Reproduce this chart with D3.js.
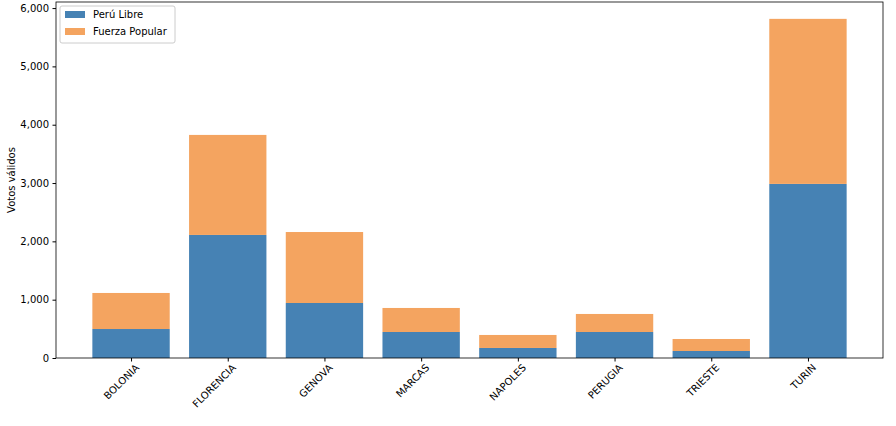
<!DOCTYPE html><html><head><script src="https://cdn.jsdelivr.net/npm/d3@7"></script>
<style>body{margin:0;background:#fff}text{font-family:"DejaVu Sans",sans-serif}</style></head><body>
<svg id="c" width="896" height="426"></svg>
<script>
const categories=["BOLONIA","FLORENCIA","GENOVA","MARCAS","NAPOLES","PERUGIA","TRIESTE","TURIN"];
const peruLibre=[497,2110,943,446,172,446,120,2985];
const fuerzaPopular=[618,1715,1217,412,223,309,206,2830];
const yTicks=[0,1000,2000,3000,4000,5000,6000];
const svg=d3.select("#c");
const L=56,R=883,T=2,B=358;
const x=d3.scaleLinear().domain([-0.776,7.776]).range([L,R]);
const y=d3.scaleLinear().domain([0,6104]).range([B,T]);
const bw=x(0.4)-x(-0.4);
const g=svg.append("g");
categories.forEach((c,i)=>{
 g.append("rect").attr("x",x(i)-bw/2).attr("width",bw).attr("y",y(peruLibre[i])).attr("height",B-y(peruLibre[i])).attr("fill","#4682b4");
 const t=peruLibre[i]+fuerzaPopular[i];
 g.append("rect").attr("x",x(i)-bw/2).attr("width",bw).attr("y",y(t)).attr("height",y(peruLibre[i])-y(t)).attr("fill","#f4a460");
});
svg.append("rect").attr("x",L).attr("y",T).attr("width",R-L).attr("height",B-T).attr("fill","none").attr("stroke","#000").attr("stroke-width",0.8);
const ya=svg.append("g").attr("transform",`translate(${L},0)`).call(d3.axisLeft(y).tickValues(yTicks).tickSize(3.5).tickPadding(3.5));
ya.select(".domain").remove();ya.selectAll("text").attr("font-size",10).attr("fill","#000");
const xa=svg.append("g").attr("transform",`translate(0,${B})`).call(d3.axisBottom(x).tickValues(d3.range(8)).tickFormat(i=>categories[i]).tickSize(3.5));
xa.select(".domain").remove();
xa.selectAll("text").attr("font-size",10).attr("fill","#000").attr("text-anchor","end").attr("transform","translate(3,5) rotate(-45)").attr("dy","0.35em").attr("y",4);
svg.append("text").attr("transform",`translate(15,${(T+B)/2}) rotate(-90)`).attr("text-anchor","middle").attr("font-size",10).text("Votos válidos");
const lg=svg.append("g").attr("transform","translate(60,6)");
lg.append("rect").attr("width",115).attr("height",37).attr("fill","#fff").attr("stroke","#ccc").attr("rx",2);
[["Perú Libre","#4682b4"],["Fuerza Popular","#f4a460"]].forEach((d,i)=>{
 lg.append("rect").attr("x",5).attr("y",5+i*17).attr("width",20).attr("height",7).attr("fill",d[1]);
 lg.append("text").attr("x",33).attr("y",12+i*17).attr("font-size",10).text(d[0]);
});
</script></body></html>
